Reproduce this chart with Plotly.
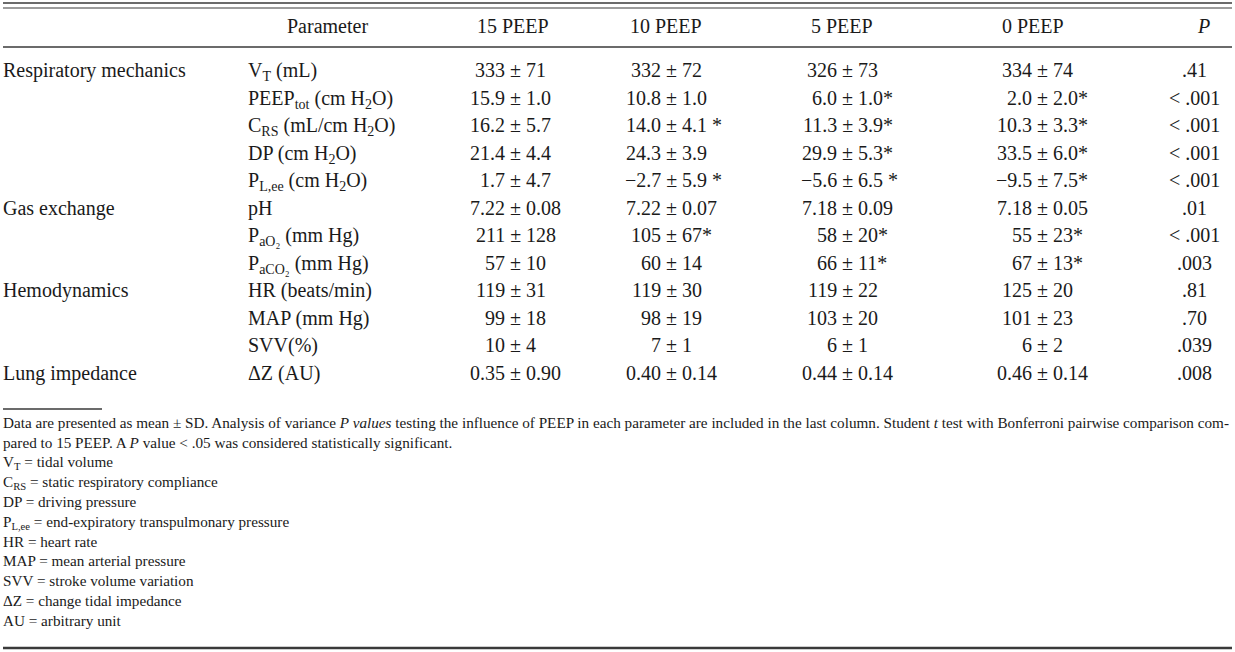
import plotly.graph_objects as go

# ---------------------------------------------------------------------------
# Table content
# ---------------------------------------------------------------------------
headers = ["Parameter", "15 PEEP", "10 PEEP", "5 PEEP", "0 PEEP", "<i>P</i>"]

groups = [
    "Respiratory mechanics", "", "", "", "",
    "Gas exchange", "", "",
    "Hemodynamics", "", "",
    "Lung impedance",
]

parameters = [
    "V<sub>T</sub> (mL)",
    "PEEP<sub>tot</sub> (cm H<sub>2</sub>O)",
    "C<sub>RS</sub> (mL/cm H<sub>2</sub>O)",
    "DP (cm H<sub>2</sub>O)",
    "P<sub>L,ee</sub> (cm H<sub>2</sub>O)",
    "pH",
    "P<sub>aO₂</sub> (mm Hg)",
    "P<sub>aCO₂</sub> (mm Hg)",
    "HR (beats/min)",
    "MAP (mm Hg)",
    "SVV(%)",
    "ΔZ (AU)",
]

peep_15 = ["333 ± 71", "15.9 ± 1.0", "16.2 ± 5.7", "21.4 ± 4.4", "1.7 ± 4.7", "7.22 ± 0.08",
           "211 ± 128", "57 ± 10", "119 ± 31", "99 ± 18", "10 ± 4", "0.35 ± 0.90"]
peep_10 = ["332 ± 72", "10.8 ± 1.0", "14.0 ± 4.1 *", "24.3 ± 3.9", "−2.7 ± 5.9 *", "7.22 ± 0.07",
           "105 ± 67*", "60 ± 14", "119 ± 30", "98 ± 19", "7 ± 1", "0.40 ± 0.14"]
peep_5 = ["326 ± 73", "6.0 ± 1.0*", "11.3 ± 3.9*", "29.9 ± 5.3*", "−5.6 ± 6.5 *", "7.18 ± 0.09",
          "58 ± 20*", "66 ± 11*", "119 ± 22", "103 ± 20", "6 ± 1", "0.44 ± 0.14"]
peep_0 = ["334 ± 74", "2.0 ± 2.0*", "10.3 ± 3.3*", "33.5 ± 6.0*", "−9.5 ± 7.5*", "7.18 ± 0.05",
          "55 ± 23*", "67 ± 13*", "125 ± 20", "101 ± 23", "6 ± 2", "0.46 ± 0.14"]
p_values = [".41", "< .001", "< .001", "< .001", "< .001", ".01",
            "< .001", ".003", ".81", ".70", ".039", ".008"]

footnotes = [
    "Data are presented as mean ± SD. Analysis of variance <i>P values</i> testing the influence of PEEP "
    "in each parameter are included in the last column. Student <i>t</i> test with Bonferroni pairwise "
    "comparison com-",
    "pared to 15 PEEP. A <i>P</i> value &lt; .05 was considered statistically significant.",
    "V<sub>T</sub> = tidal volume",
    "C<sub>RS</sub> = static respiratory compliance",
    "DP = driving pressure",
    "P<sub>L,ee</sub> = end-expiratory transpulmonary pressure",
    "HR = heart rate",
    "MAP = mean arterial pressure",
    "SVV = stroke volume variation",
    "ΔZ = change tidal impedance",
    "AU = arbitrary unit",
]

# ---------------------------------------------------------------------------
# Layout (pixels)
# ---------------------------------------------------------------------------
W, H = 1235, 652
FONT = "Liberation Serif, Times New Roman, serif"
INK = "#1a1a1a"
BODY = 20
SMALL = 15.2

LEFT, RIGHT = 3, 1232
HEAD_Y = 27
ROW_Y0, ROW_STEP = 71, 27.5
NOTE_Y0, NOTE_STEP = 423, 19.8

GROUP_X, PARAM_X, PARAM_HEAD_X = 3, 248, 327
HEAD_X = [513, 666, 842, 1033]
PM_X = [516, 672, 848, 1043]      # the ± of each value column sits here
P_X, P_HEAD_X = 1194, 1203

fig = go.Figure()


def text(x, y, s, size=BODY, anchor="left"):
    # top-anchored so rows with subscripts keep the same baseline
    fig.add_annotation(
        x=x, y=y - size * 0.6, xref="x", yref="y", text=s, showarrow=False,
        xanchor=anchor, yanchor="top", borderpad=0, borderwidth=0,
        font=dict(family=FONT, size=size, color=INK),
    )


# header
text(PARAM_HEAD_X, HEAD_Y, headers[0], anchor="center")
for hx, h in zip(HEAD_X, headers[1:5]):
    text(hx, HEAD_Y, h, anchor="center")
text(P_HEAD_X, HEAD_Y, headers[5], anchor="center")

# body
columns = [peep_15, peep_10, peep_5, peep_0]
for i in range(len(parameters)):
    y = ROW_Y0 + i * ROW_STEP
    if groups[i]:
        text(GROUP_X, y, groups[i])
    text(PARAM_X, y, parameters[i])
    for px, col in zip(PM_X, columns):
        left, right = col[i].split(" ± ")
        text(px + 5, y, left + "\u00a0±", anchor="right")
        text(px + 5, y, "\u00a0" + right, anchor="left")
    text(P_X, y, p_values[i].replace("<", "&lt;"), anchor="center")

# footnotes
for k, line in enumerate(footnotes):
    text(LEFT, NOTE_Y0 + k * NOTE_STEP, line, size=SMALL)

# rules
rules = [
    (LEFT, RIGHT, 3, 1.6),
    (LEFT, RIGHT, 8, 1.2),
    (LEFT, RIGHT, 47, 1.6),
    (LEFT, 102, 409, 1.4),
    (LEFT, RIGHT, 648, 2.6),
]
for x0, x1, y, w in rules:
    fig.add_shape(type="line", xref="x", yref="y", x0=x0, x1=x1, y0=y, y1=y,
                  line=dict(color="#3a3a3a", width=w))

fig.update_layout(
    width=W,
    height=H,
    margin=dict(l=0, r=0, t=0, b=0),
    paper_bgcolor="white",
    plot_bgcolor="white",
    showlegend=False,
    xaxis=dict(range=[0, W], visible=False, fixedrange=True),
    yaxis=dict(range=[H, 0], visible=False, fixedrange=True),
)

fig.write_html("out.html", config={"displayModeBar": False},
               post_script="document.body.style.margin='0';")
